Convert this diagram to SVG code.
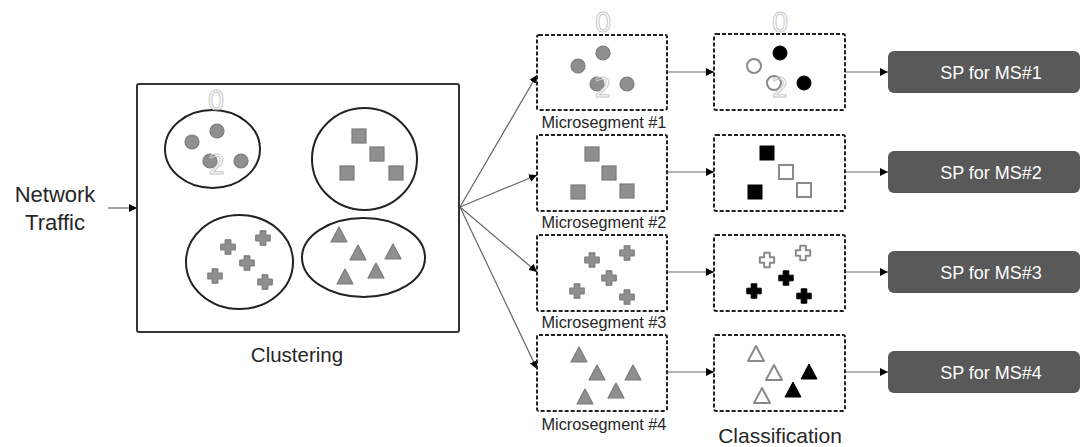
<svg xmlns="http://www.w3.org/2000/svg" xmlns:xlink="http://www.w3.org/1999/xlink" width="1086" height="447" viewBox="0 0 1086 447">
<style>
.lbl{font-family:"Liberation Sans",Arial,sans-serif;fill:#262626}
.g{fill:#8f8f8f;stroke:#7b7b7b;stroke-width:1.2}
.b{fill:#000;stroke:#000;stroke-width:1}
.h{fill:#fff;stroke:#8a8a8a;stroke-width:2}
.dash{fill:#fff;stroke:#222;stroke-width:2;stroke-dasharray:4 2}
.ell{fill:none;stroke:#222;stroke-width:2}
.conn{stroke:#666;stroke-width:1.2;fill:none;marker-end:url(#ah)}
.sp{fill:#595959}
.spt{font-family:"Liberation Sans",Arial,sans-serif;font-size:18px;fill:#fff;text-anchor:middle}
.ghost{font-family:"DejaVu Sans",sans-serif;font-size:27px;fill:none;stroke:#c8c8c8;stroke-width:1;text-anchor:middle}
</style>
<defs>
<marker id="ah" viewBox="0 0 10 10" refX="10" refY="5" markerWidth="8" markerHeight="8" markerUnits="userSpaceOnUse" orient="auto">
<path d="M0,0 L10,5 L0,10 z" fill="#000"/>
</marker>
<circle id="ci" cx="0" cy="0" r="7"/>
<rect id="sq" x="-7" y="-7" width="14" height="14"/>
<path id="cr" d="M-2.8,-7.2 h5.6 v4.4 h4.4 v5.6 h-4.4 v4.4 h-5.6 v-4.4 h-4.4 v-5.6 h4.4 z" stroke-linejoin="round"/>
<path id="tr" d="M0,-8 L8,7 L-8,7 z" stroke-linejoin="round"/>
</defs>
<rect width="1086" height="447" fill="#fff"/>

<g id="connectors">
<line class="conn" x1="108" y1="208" x2="137" y2="208"/>
<line class="conn" x1="460" y1="207" x2="537" y2="75"/>
<line class="conn" x1="460" y1="207" x2="537" y2="175"/>
<line class="conn" x1="460" y1="207" x2="537" y2="272"/>
<line class="conn" x1="460" y1="207" x2="537" y2="369"/>
<line class="conn" x1="667" y1="72" x2="714" y2="72"/>
<line class="conn" x1="667" y1="172" x2="714" y2="172"/>
<line class="conn" x1="667" y1="272" x2="714" y2="272"/>
<line class="conn" x1="667" y1="372" x2="714" y2="372"/>
<line class="conn" x1="845" y1="72" x2="888" y2="72"/>
<line class="conn" x1="845" y1="172" x2="888" y2="172"/>
<line class="conn" x1="845" y1="272" x2="888" y2="272"/>
<line class="conn" x1="845" y1="372" x2="888" y2="372"/>
</g>

<g id="input">
<text class="lbl" font-size="22" x="55" y="202" text-anchor="middle">Network</text>
<text class="lbl" font-size="22" x="55" y="230" text-anchor="middle">Traffic</text>
</g>

<g id="clustering">
<rect x="137" y="84" width="322" height="248" rx="2" fill="none" stroke="#333" stroke-width="2"/>
<ellipse class="ell" cx="212.5" cy="149" rx="47.5" ry="39"/>
<text class="ghost" x="216" y="110">0</text>
<use href="#ci" class="g" x="192" y="142"/>
<use href="#ci" class="g" x="217" y="131"/>
<use href="#ci" class="g" x="210" y="161"/>
<use href="#ci" class="g" x="241" y="161"/>
<text class="ghost" x="217" y="174">2</text>
<ellipse class="ell" cx="364.5" cy="159" rx="52.5" ry="51"/>
<use href="#sq" class="g" x="359" y="136"/>
<use href="#sq" class="g" x="377" y="154"/>
<use href="#sq" class="g" x="347" y="173"/>
<use href="#sq" class="g" x="396" y="173"/>
<ellipse class="ell" cx="239.5" cy="262" rx="53.5" ry="47"/>
<use href="#cr" class="g" x="228" y="247"/>
<use href="#cr" class="g" x="263" y="238"/>
<use href="#cr" class="g" x="247" y="263"/>
<use href="#cr" class="g" x="215" y="276"/>
<use href="#cr" class="g" x="265" y="282"/>
<ellipse class="ell" cx="363.5" cy="257.5" rx="61.5" ry="39.5"/>
<use href="#tr" class="g" x="339" y="235"/>
<use href="#tr" class="g" x="358" y="253"/>
<use href="#tr" class="g" x="393" y="252"/>
<use href="#tr" class="g" x="345" y="277"/>
<use href="#tr" class="g" x="376" y="271"/>
<text class="lbl" font-size="20.5" x="297" y="362" text-anchor="middle">Clustering</text>
</g>

<g id="ms1">
<text class="ghost" x="603" y="32">0</text>
<rect class="dash" x="537" y="35" width="130" height="75" rx="2"/>
<use href="#ci" class="g" x="578" y="66"/>
<use href="#ci" class="g" x="603" y="53"/>
<use href="#ci" class="g" x="597" y="84"/>
<use href="#ci" class="g" x="627" y="84"/>
<text class="ghost" x="603" y="97">2</text>
<text class="lbl" font-size="16.3" x="604" y="128" text-anchor="middle">Microsegment #1</text>
</g>
<g id="ms2">
<rect class="dash" x="537" y="135" width="130" height="76" rx="2"/>
<use href="#sq" class="g" x="592" y="154"/>
<use href="#sq" class="g" x="609" y="173"/>
<use href="#sq" class="g" x="578" y="192"/>
<use href="#sq" class="g" x="627" y="191"/>
<text class="lbl" font-size="16.3" x="604" y="228" text-anchor="middle">Microsegment #2</text>
</g>
<g id="ms3">
<rect class="dash" x="537" y="235" width="130" height="76" rx="2"/>
<use href="#cr" class="g" x="592" y="260"/>
<use href="#cr" class="g" x="627" y="253"/>
<use href="#cr" class="g" x="609" y="278"/>
<use href="#cr" class="g" x="577" y="291"/>
<use href="#cr" class="g" x="627" y="297"/>
<text class="lbl" font-size="16.3" x="604" y="328" text-anchor="middle">Microsegment #3</text>
</g>
<g id="ms4">
<rect class="dash" x="537" y="335" width="130" height="76" rx="2"/>
<use href="#tr" class="g" x="579" y="355"/>
<use href="#tr" class="g" x="597" y="373"/>
<use href="#tr" class="g" x="633" y="373"/>
<use href="#tr" class="g" x="585" y="397"/>
<use href="#tr" class="g" x="616" y="391"/>
<text class="lbl" font-size="16.3" x="604" y="430" text-anchor="middle">Microsegment #4</text>
</g>

<g id="cls1">
<text class="ghost" x="780" y="32">0</text>
<rect class="dash" x="714" y="34" width="131" height="76" rx="2"/>
<use href="#ci" class="h" x="754" y="66"/>
<use href="#ci" class="b" x="780" y="53"/>
<use href="#ci" class="h" x="774" y="83"/>
<use href="#ci" class="b" x="804" y="83"/>
<text class="ghost" x="780" y="97">2</text>
</g>
<g id="cls2">
<rect class="dash" x="714" y="135" width="131" height="76" rx="2"/>
<use href="#sq" class="b" x="767" y="153"/>
<use href="#sq" class="h" x="786" y="172"/>
<use href="#sq" class="b" x="755" y="192"/>
<use href="#sq" class="h" x="804" y="190"/>
</g>
<g id="cls3">
<rect class="dash" x="714" y="235" width="131" height="76" rx="2"/>
<use href="#cr" class="h" x="767" y="260"/>
<use href="#cr" class="h" x="803" y="253"/>
<use href="#cr" class="b" x="786" y="278"/>
<use href="#cr" class="b" x="754" y="291"/>
<use href="#cr" class="b" x="804" y="296"/>
</g>
<g id="cls4">
<rect class="dash" x="714" y="335" width="131" height="76" rx="2"/>
<use href="#tr" class="h" x="756" y="354"/>
<use href="#tr" class="h" x="774" y="373"/>
<use href="#tr" class="b" x="809" y="372"/>
<use href="#tr" class="h" x="762" y="396"/>
<use href="#tr" class="b" x="793" y="390"/>
<text class="lbl" font-size="21" x="780" y="443" text-anchor="middle">Classification</text>
</g>

<g id="sp1"><rect class="sp" x="888" y="51" width="192" height="42" rx="6"/><text class="spt" x="991" y="79">SP for MS#1</text></g>
<g id="sp2"><rect class="sp" x="888" y="151" width="192" height="42" rx="6"/><text class="spt" x="991" y="179">SP for MS#2</text></g>
<g id="sp3"><rect class="sp" x="888" y="251" width="192" height="42" rx="6"/><text class="spt" x="991" y="279">SP for MS#3</text></g>
<g id="sp4"><rect class="sp" x="888" y="351" width="192" height="42" rx="6"/><text class="spt" x="991" y="379">SP for MS#4</text></g>
</svg>
